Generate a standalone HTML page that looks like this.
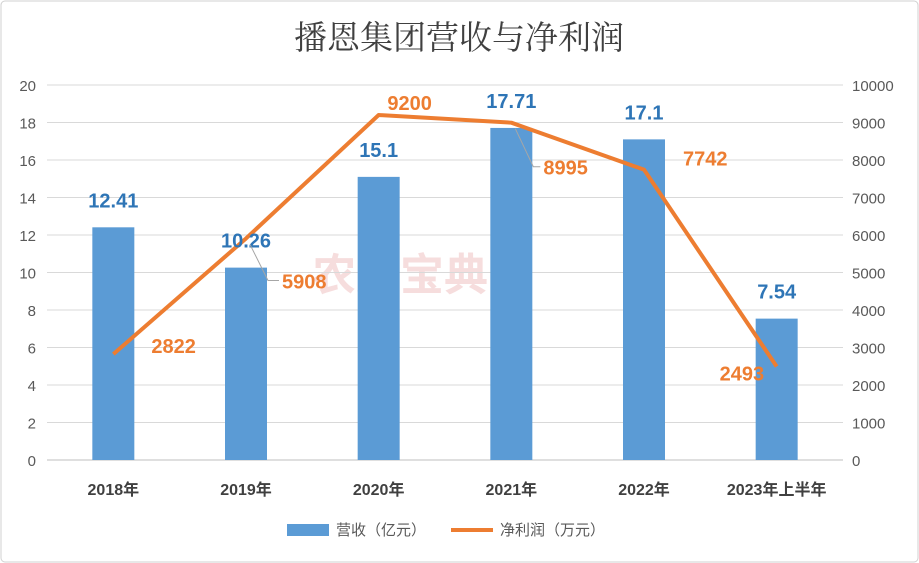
<!DOCTYPE html>
<html><head><meta charset="utf-8"><style>
body{margin:0;background:#fff;}
svg{display:block;font-family:"Liberation Sans","Noto Sans CJK SC",sans-serif;}
</style></head><body>
<svg id="c" width="919" height="563" viewBox="0 0 919 563">
<rect x="1" y="1" width="917" height="561" rx="4" fill="#fff" stroke="#d0d0d0"/>
<text x="459" y="49" text-anchor="middle" font-size="33" fill="#404040" font-family="'Noto Serif CJK SC','Noto Sans CJK SC',serif">播恩集团营收与净利润</text>
<text x="400" y="290" text-anchor="middle" font-size="44" font-weight="bold" fill="#e8a0a0" opacity="0.35" font-family="'Noto Sans CJK SC',sans-serif">农财宝典</text>
<g id="grid"></g><g id="bars"></g><g id="line"></g><g id="labels"></g>
<g>
<rect x="287" y="524" width="42" height="12" fill="#5b9bd5"/>
<text x="336" y="535" font-size="15" fill="#595959">营收（亿元）</text>
<line x1="451" y1="530" x2="493" y2="530" stroke="#ed7d31" stroke-width="4"/>
<text x="500" y="535" font-size="15" fill="#595959">净利润（万元）</text>
</g>
</svg>
<script>
const categories=["2018年","2019年","2020年","2021年","2022年","2023年上半年"];
const revenue=[12.41,10.26,15.1,17.71,17.1,7.54];
const profit=[2822,5908,9200,8995,7742,2493];
const leftTicks=[0,2,4,6,8,10,12,14,16,18,20];
const rightTicks=[0,1000,2000,3000,4000,5000,6000,7000,8000,9000,10000];
const NS="http://www.w3.org/2000/svg";
const x0=47,x1=843,yTop=85,yBot=460;
const yL=v=>yBot-(v/20)*(yBot-yTop);
const yR=v=>yBot-(v/10000)*(yBot-yTop);
const band=(x1-x0)/categories.length;
const xc=i=>x0+band*(i+0.5);
function mk(t,a,p){const e=document.createElementNS(NS,t);for(const k in a)e.setAttribute(k,a[k]);(p||document.getElementById('c')).appendChild(e);return e;}
const G=document.getElementById('grid'),B=document.getElementById('bars'),L=document.getElementById('line'),T=document.getElementById('labels');
leftTicks.forEach(v=>{
 const l=mk('line',{x1:x0,x2:x1,y1:yL(v),y2:yL(v),stroke:v===0?'#bfbfbf':'#d9d9d9','stroke-width':1},G);
 
 
 const t=mk('text',{x:36,y:yL(v)+6,'text-anchor':'end','font-size':15,fill:'#595959'},G);t.textContent=v;
 
 
});
rightTicks.forEach(v=>{
 const t=mk('text',{x:852,y:yR(v)+6,'font-size':15,fill:'#595959'},G);t.textContent=v;
 
 
});
categories.forEach((c,i)=>{
 const t=mk('text',{x:xc(i),y:495,'text-anchor':'middle','font-size':16,'font-weight':'bold',fill:'#404040'},G);t.textContent=c;
 
 
 const r=mk('rect',{x:xc(i)-21,y:yL(revenue[i]),width:42,height:yBot-yL(revenue[i]),fill:'#5b9bd5'},B);
 
 
 const bl=mk('text',{x:xc(i),y:yL(revenue[i])-20,'text-anchor':'middle','font-size':20,'font-weight':'bold',fill:'#2e75b6'},T);bl.textContent=revenue[i];
 
 
});
const pts=profit.map((v,i)=>xc(i)+','+yR(v)).join(' ');
const pl=mk('polyline',{points:pts,fill:'none',stroke:'#ed7d31','stroke-width':4,'stroke-linejoin':'round'},L);


// [dx, baseline dy, leader, anchor]
const off=[[38,-1,0,'start'],[36,50,1,'start'],[31,-5,0,'middle'],[32,52,1,'start'],[39,-4,0,'start'],[-57,14,0,'start']];
profit.forEach((v,i)=>{
 const [dx,dy,lead,anc]=off[i];const px=xc(i),py=yR(v);
 if(lead){const ll=mk('polyline',{points:`${px+4},${py+6} ${px+22},${py+dy-8} ${px+dx-3},${py+dy-8}`,fill:'none',stroke:'#a6a6a6','stroke-width':1},T);
 
 }
 const t=mk('text',{x:px+dx,y:py+dy,'font-size':20,'font-weight':'bold',fill:'#ed7d31','text-anchor':anc},T);t.textContent=v;
 
 
});
</script>
</body></html>
